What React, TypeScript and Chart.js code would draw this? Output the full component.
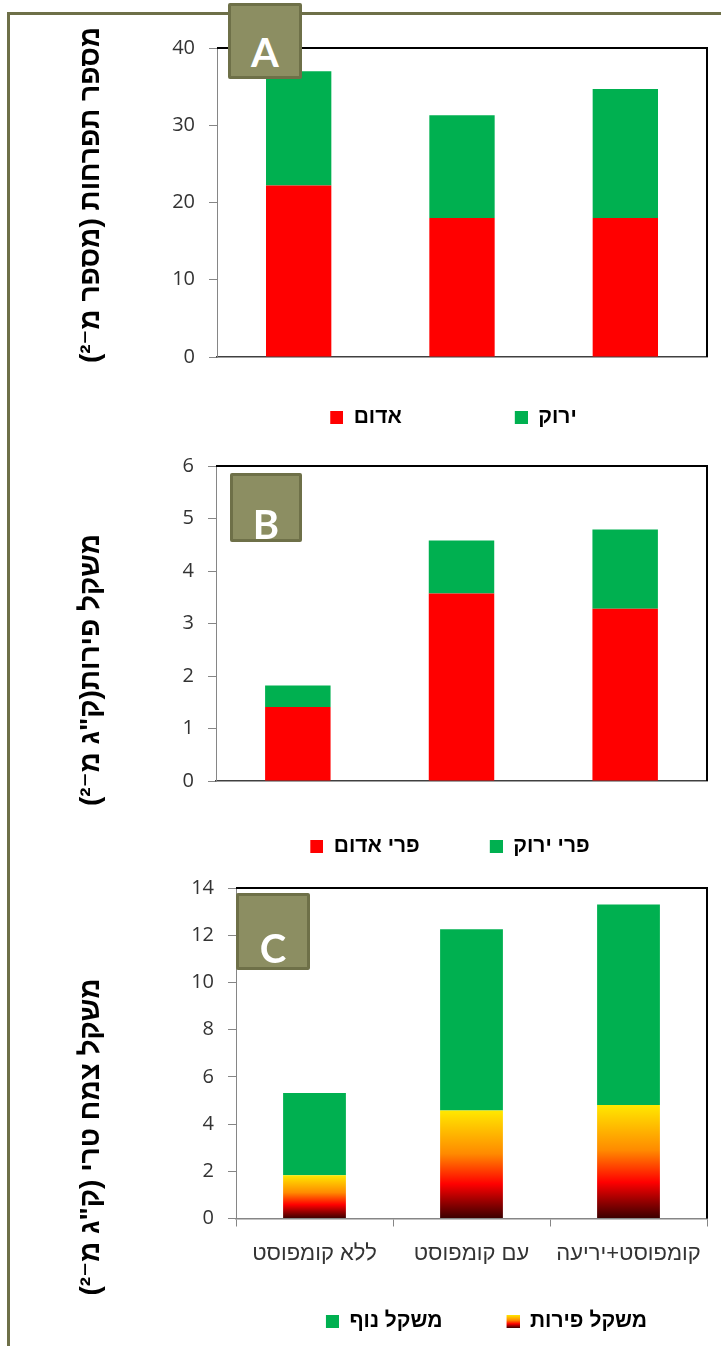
import React, { useEffect, useRef } from 'react';
import { Chart, registerables } from 'chart.js';

Chart.register(...registerables);

// ---------------- data ----------------
const categories = ['ללא קומפוסט', 'עם קומפוסט', 'קומפוסט+יריעה'];

const seriesANames = ['אדום', 'ירוק'];
const inflorescenceRed = [22.2, 18.0, 18.0];
const inflorescenceGreen = [14.8, 13.3, 16.7];
const yTicksA = [0, 10, 20, 30, 40];

const seriesBNames = ['פרי אדום', 'פרי ירוק'];
const fruitRed = [1.41, 3.57, 3.28];
const fruitGreen = [0.41, 1.01, 1.51];
const yTicksB = [0, 1, 2, 3, 4, 5, 6];

const seriesCNames = ['משקל פירות', 'משקל נוף'];
const plantFruit = [1.83, 4.57, 4.81];
const plantFoliage = [3.49, 7.68, 8.49];
const yTicksC = [0, 2, 4, 6, 8, 10, 12, 14];

const axisTitles = ['מספר תפרחות (מספר מ⁻²)', 'משקל פירות(ק"ג מ⁻²)', 'משקל צמח טרי (ק"ג מ⁻²)'];
const panelLetters = ['A', 'B', 'C'];

// ---------------- styles ----------------
const RED = '#ff0000';
const GREEN = '#00b050';
const OLIVE_FILL = '#8c8e62';
const OLIVE_LINE = '#6e7048';
const HEB_FONT = '"Liberation Sans", Arial, "DejaVu Sans", sans-serif';
const NUM_FONT = '"Open Sans", "Liberation Sans", sans-serif';
const FRUIT_STOPS: [number, string][] = [
  [0, '#3a0000'],
  [0.16, '#9a0000'],
  [0.32, '#ff0000'],
  [0.6, '#ff8a00'],
  [1, '#ffe800'],
];

function fruitGradient(ctx: CanvasRenderingContext2D, yBottom: number, yTop: number) {
  const g = ctx.createLinearGradient(0, yBottom, 0, yTop);
  FRUIT_STOPS.forEach(([o, c]) => g.addColorStop(o, c));
  return g;
}

function makeSwatch(width: number, kind: 'solid' | 'gradient', color: string) {
  const c = document.createElement('canvas');
  c.width = Math.round(width);
  c.height = 13;
  const g = c.getContext('2d')!;
  g.fillStyle = kind === 'gradient' ? fruitGradient(g, 13, 0) : color;
  g.fillRect(c.width - 13, 0, 13, 13);
  return c;
}

type DS = { label: string; data: number[]; kind: 'solid' | 'gradient'; color: string };
type Spec = {
  datasets: DS[];
  legendOrder: number[];
  yTicks: number[];
  showCategories: boolean;
  height: number;
  padLeft: number;
  padTop: number;
  yAxisWidth: number;
  xAxisHeight: number;
  swatchWidth: number;
  legendPadding: number;
  legendFullSize: boolean;
  bottomColor: string;
  title: string;
  titleX: number;
  titleY: number;
};

function buildConfig(spec: Spec): any {
  const swatches = spec.datasets.map((d) => makeSwatch(spec.swatchWidth, d.kind, d.color));
  const yMin = spec.yTicks[0];
  const yMax = spec.yTicks[spec.yTicks.length - 1];
  const step = spec.yTicks[1] - spec.yTicks[0];

  const framePlugin = {
    id: 'frameLines',
    afterDraw(chart: any) {
      const { ctx, chartArea: a } = chart;
      ctx.save();
      ctx.strokeStyle = '#000';
      ctx.lineWidth = 2;
      ctx.beginPath();
      ctx.moveTo(a.left, a.top);
      ctx.lineTo(a.right, a.top);
      ctx.lineTo(a.right, a.bottom);
      ctx.stroke();
      ctx.restore();
    },
  };
  const titlePlugin = {
    id: 'yTitle',
    afterDraw(chart: any) {
      const ctx = chart.ctx as CanvasRenderingContext2D;
      ctx.save();
      ctx.translate(spec.titleX, spec.titleY);
      ctx.rotate(-Math.PI / 2);
      (ctx as any).direction = 'rtl';
      ctx.font = `bold 28px ${HEB_FONT}`;
      ctx.fillStyle = '#000';
      ctx.textAlign = 'center';
      ctx.textBaseline = 'middle';
      ctx.fillText(spec.title, 0, 0);
      ctx.restore();
    },
  };

  return {
    type: 'bar',
    data: {
      labels: categories,
      datasets: spec.datasets.map((d) => ({
        label: d.label,
        data: d.data,
        borderWidth: 0,
        categoryPercentage: 1,
        barPercentage: 0.4,
        backgroundColor:
          d.kind === 'gradient'
            ? (c: any) => {
                const chart = c.chart;
                if (c.type !== 'data' || !chart.chartArea) return RED;
                const ys = chart.scales.y;
                return fruitGradient(chart.ctx, ys.getPixelForValue(0), ys.getPixelForValue(c.raw));
              }
            : d.color,
      })),
    },
    options: {
      responsive: false,
      animation: false,
      devicePixelRatio: 1,
      events: [],
      layout: { padding: { left: spec.padLeft, right: 14, top: spec.padTop, bottom: 0 } },
      scales: {
        x: {
          stacked: true,
          offset: true,
          grid: {
            display: true,
            drawOnChartArea: false,
            drawTicks: spec.showCategories,
            tickLength: 8,
            color: '#868686',
            offset: true,
          },
          border: { display: true, color: spec.bottomColor, width: 1.5 },
          ticks: {
            display: spec.showCategories,
            autoSkip: false,
            maxRotation: 0,
            minRotation: 0,
            padding: 14,
            color: '#333333',
            font: { family: HEB_FONT, size: 22 },
          },
          afterFit: (s: any) => {
            s.height = spec.xAxisHeight;
          },
        },
        y: {
          stacked: true,
          min: yMin,
          max: yMax,
          ticks: {
            stepSize: step,
            padding: 14,
            color: '#333333',
            font: { family: NUM_FONT, size: 20 },
          },
          grid: { display: true, drawOnChartArea: false, drawTicks: true, tickLength: 8, color: '#868686' },
          border: { display: true, color: '#868686', width: 1 },
          afterFit: (s: any) => {
            s.width = spec.yAxisWidth;
          },
        },
      },
      plugins: {
        tooltip: { enabled: false },
        title: { display: false },
        legend: {
          display: true,
          position: 'bottom',
          fullSize: spec.legendFullSize,
          labels: {
            usePointStyle: true,
            pointStyleWidth: spec.swatchWidth,
            boxHeight: 13,
            padding: spec.legendPadding,
            color: '#000',
            font: { family: HEB_FONT, size: 21, weight: 'bold' },
            generateLabels: () =>
              spec.legendOrder.map((i) => ({
                text: spec.datasets[i].label,
                pointStyle: swatches[i],
                fillStyle: 'rgba(0,0,0,0)',
                strokeStyle: 'rgba(0,0,0,0)',
                lineWidth: 0,
                hidden: false,
                datasetIndex: i,
                fontColor: '#000',
              })),
          },
        },
      },
    },
    plugins: [framePlugin, titlePlugin],
  };
}

function Panel({ top, spec }: { top: number; spec: Spec }) {
  const ref = useRef<HTMLCanvasElement>(null);
  useEffect(() => {
    const chart = new Chart(ref.current!, buildConfig(spec));
    return () => chart.destroy();
  }, []);
  return (
    <canvas
      ref={ref}
      width={721}
      height={spec.height}
      style={{ position: 'absolute', left: 0, top, width: 721, height: spec.height, zIndex: 1 }}
    />
  );
}

function Badge({ letter, left, top, width, height, textTop }: any) {
  return (
    <div
      style={{
        position: 'absolute',
        left,
        top,
        width,
        height,
        boxSizing: 'border-box',
        background: OLIVE_FILL,
        border: `3px solid ${OLIVE_LINE}`,
        borderRadius: 2,
        zIndex: 3,
      }}
    >
      <span
        style={{
          position: 'absolute',
          left: 0,
          right: 0,
          top: textTop,
          textAlign: 'center',
          color: '#fff',
          fontFamily: 'Lato, "Open Sans", sans-serif',
          fontWeight: 700,
          fontSize: 40,
          lineHeight: '40px',
        }}
      >
        {letter}
      </span>
    </div>
  );
}

const specA: Spec = {
  datasets: [
    { label: seriesANames[0], data: inflorescenceRed, kind: 'solid', color: RED },
    { label: seriesANames[1], data: inflorescenceGreen, kind: 'solid', color: GREEN },
  ],
  legendOrder: [0, 1],
  yTicks: yTicksA,
  showCategories: false,
  height: 438,
  padLeft: 97,
  padTop: 48,
  yAxisWidth: 120,
  xAxisHeight: 40,
  swatchWidth: 116,
  legendPadding: 10,
  legendFullSize: true,
  bottomColor: '#404040',
  title: axisTitles[0],
  titleX: 91,
  titleY: 195,
};

const specB: Spec = {
  datasets: [
    { label: seriesBNames[0], data: fruitRed, kind: 'solid', color: RED },
    { label: seriesBNames[1], data: fruitGreen, kind: 'solid', color: GREEN },
  ],
  legendOrder: [0, 1],
  yTicks: yTicksB,
  showCategories: false,
  height: 427,
  padLeft: 133,
  padTop: 25,
  yAxisWidth: 83,
  xAxisHeight: 45,
  swatchWidth: 73,
  legendPadding: 10,
  legendFullSize: true,
  bottomColor: '#404040',
  title: axisTitles[1],
  titleX: 91,
  titleY: 230,
};

const specC: Spec = {
  datasets: [
    { label: seriesCNames[0], data: plantFruit, kind: 'gradient', color: RED },
    { label: seriesCNames[1], data: plantFoliage, kind: 'solid', color: GREEN },
  ],
  legendOrder: [1, 0],
  yTicks: yTicksC,
  showCategories: true,
  height: 482,
  padLeft: 100,
  padTop: 28,
  yAxisWidth: 136,
  xAxisHeight: 58.5,
  swatchWidth: 43,
  legendPadding: 34,
  legendFullSize: false,
  bottomColor: '#868686',
  title: axisTitles[2],
  titleX: 91,
  titleY: 277,
};

export default function App() {
  return (
    <div
      style={{
        position: 'absolute',
        left: 0,
        top: 0,
        width: 721,
        height: 1346,
        overflow: 'hidden',
        background: '#fff',
      }}
    >
      <div
        style={{
          position: 'absolute',
          left: 7,
          top: 12,
          width: 800,
          height: 1400,
          borderTop: `3px solid ${OLIVE_LINE}`,
          borderLeft: `3px solid ${OLIVE_LINE}`,
          zIndex: 0,
        }}
      />
      <Panel top={0} spec={specA} />
      <Panel top={440} spec={specB} />
      <Panel top={860} spec={specC} />
      <Badge letter={panelLetters[0]} left={228} top={3} width={74} height={76} textTop={26} />
      <Badge letter={panelLetters[1]} left={230} top={473} width={72} height={69} textTop={28} />
      <Badge letter={panelLetters[2]} left={236} top={893} width={74} height={77} textTop={32} />
    </div>
  );
}
